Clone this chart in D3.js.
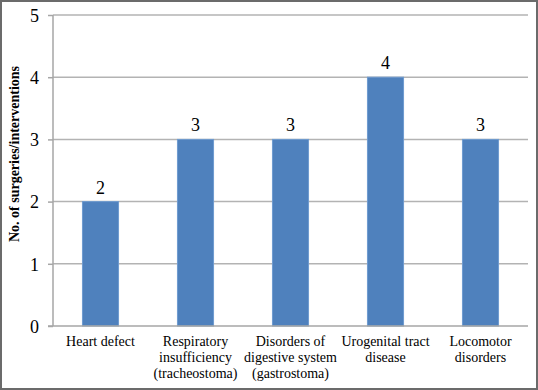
<!DOCTYPE html>
<html><head><meta charset="utf-8">
<script src="https://cdn.jsdelivr.net/npm/d3@7"></script>
<style>html,body{margin:0;padding:0;background:#fff;}svg{display:block;}</style>
</head><body>
<script>
const categories = [
  ["Heart defect"],
  ["Respiratory", "insufficiency", "(tracheostoma)"],
  ["Disorders of", "digestive system", "(gastrostoma)"],
  ["Urogenital tract", "disease"],
  ["Locomotor", "disorders"]
];
const values = [2, 3, 3, 4, 3];
const yTicks = [0, 1, 2, 3, 4, 5];
const yTitle = "No. of surgeries/interventions";

(function () {
const W = 538, H = 390;
const svg = d3.select("body").append("svg").attr("width", W).attr("height", H);
svg.append("rect").attr("x", 1).attr("y", 1).attr("width", W - 2).attr("height", H - 2)
  .attr("fill", "#fff").attr("stroke", "#6b6b6b").attr("stroke-width", 2);

const pL = 53, pR = 528, pT = 15, pB = 326;
const x = d3.scaleBand().domain(d3.range(values.length)).range([pL, pR]).paddingInner(0.62).paddingOuter(0.31);
const y = d3.scaleLinear().domain([0, 5]).range([pB, pT]);

const font = "'Liberation Serif','Times New Roman',serif";

// gridlines
svg.append("g").selectAll("line").data(yTicks.filter(d => d > 0)).join("line")
  .attr("x1", pL).attr("x2", pR).attr("y1", d => y(d)).attr("y2", d => y(d))
  .attr("stroke", "#b3b3b3").attr("stroke-width", 1.5);

// y axis
const yAxis = d3.axisLeft(y).tickValues(yTicks).tickSize(5).tickFormat(d3.format("d"));
const gy = svg.append("g").attr("transform", `translate(${pL},0)`).call(yAxis);
gy.select(".domain").attr("stroke", "#a6a6a6").attr("stroke-width", 1.5).attr("d", `M0,${pT}V${pB}`);
gy.selectAll(".tick line").attr("stroke", "#a6a6a6").attr("stroke-width", 1.5);
gy.selectAll(".tick text").attr("font-family", font).attr("font-size", 18).attr("fill", "#000")
  .attr("x", -14).attr("dy", "0.35em");

// bars
svg.append("g").selectAll("rect").data(values).join("rect")
  .attr("x", (d, i) => x(i)).attr("width", x.bandwidth())
  .attr("y", d => y(d)).attr("height", d => y(0) - y(d))
  .attr("fill", "#4f81bd").attr("stroke", "#6f9bcf").attr("stroke-width", 1);

// x axis baseline
const xAxis = d3.axisBottom(x).tickSize(0).tickFormat("");
const gx = svg.append("g").attr("transform", `translate(0,${pB})`).call(xAxis);
gx.select(".domain").attr("stroke", "#a6a6a6").attr("stroke-width", 1.5).attr("d", `M${pL - 5},0H${pR}`);

// value labels
svg.append("g").selectAll("text").data(values).join("text")
  .attr("x", (d, i) => x(i) + x.bandwidth() / 2).attr("y", d => y(d) - 8)
  .attr("text-anchor", "middle").attr("font-family", font).attr("font-size", 18).attr("fill", "#000")
  .text(d => d);

// category labels
const cl = svg.append("g").selectAll("text").data(categories).join("text")
  .attr("x", (d, i) => x(i) + x.bandwidth() / 2).attr("y", 346)
  .attr("text-anchor", "middle").attr("font-family", font).attr("font-size", 14).attr("fill", "#000");
cl.selectAll("tspan").data(d => d).join("tspan")
  .attr("x", function () { return d3.select(this.parentNode).attr("x"); })
  .attr("dy", (d, j) => j === 0 ? 0 : 16).text(d => d);

// y title
svg.append("text").attr("transform", `translate(19,154) rotate(-90)`)
  .attr("text-anchor", "middle").attr("font-family", font).attr("font-size", 14).attr("font-weight", "bold")
  .attr("fill", "#000").text(yTitle);
})();
</script>
</body></html>
